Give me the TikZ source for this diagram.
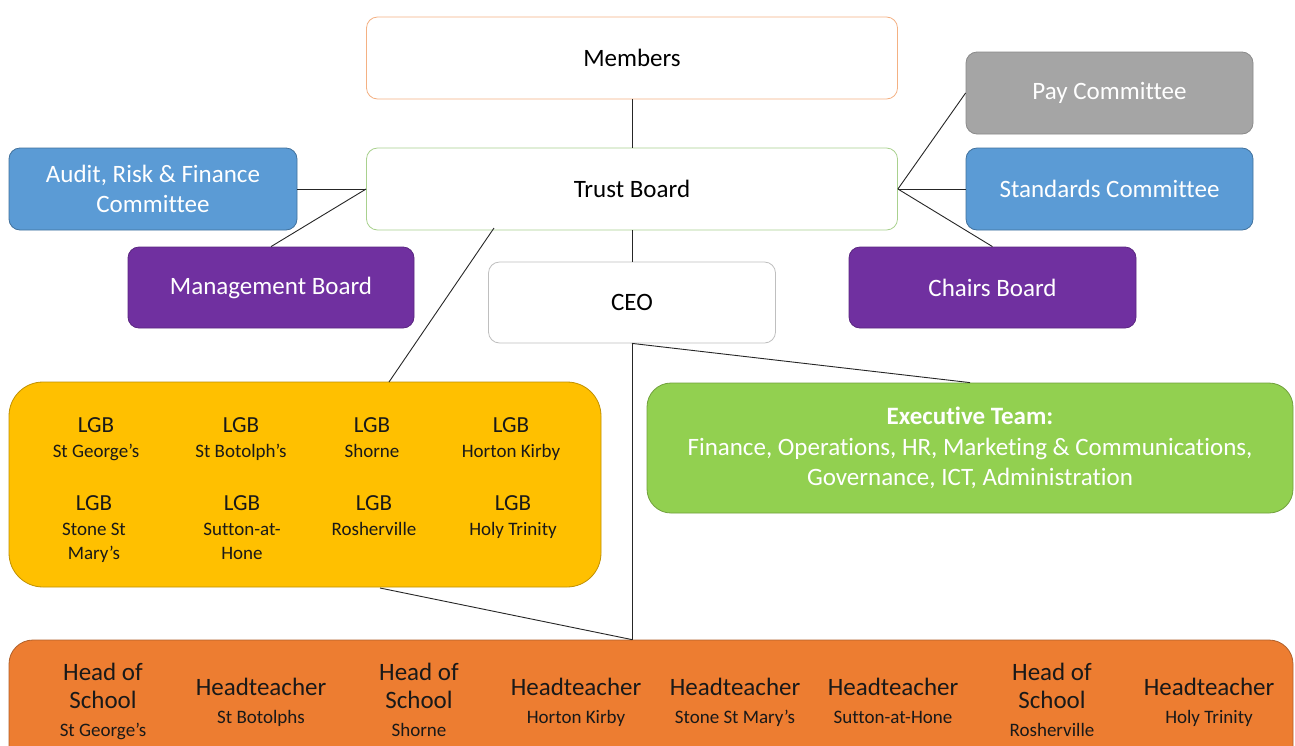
\documentclass[tikz,border=0pt]{standalone}
\usepackage{fontspec}
\setmainfont{Carlito}[Ligatures=NoCommon]
\definecolor{memberline}{HTML}{F4B183}
\definecolor{trustline}{HTML}{A9D18E}
\definecolor{ceoline}{HTML}{BFBFBF}
\definecolor{bluefill}{HTML}{5B9BD5}
\definecolor{blueline}{HTML}{41719C}
\definecolor{purplefill}{HTML}{7030A0}
\definecolor{purpleline}{HTML}{5A2680}
\definecolor{grayfill}{HTML}{A5A5A5}
\definecolor{grayline}{HTML}{8A8A8A}
\definecolor{yellowfill}{HTML}{FFC000}
\definecolor{yellowline}{HTML}{C09000}
\definecolor{greenfill}{HTML}{92D050}
\definecolor{greenline}{HTML}{71A03C}
\definecolor{orangefill}{HTML}{ED7D31}
\definecolor{orangeline}{HTML}{B0602A}
\definecolor{linkcol}{HTML}{262626}
% first lines of the school entries
\newcommand{\lgbhead}{{\fontsize{23}{24.5}\selectfont\strut LGB}}
\newcommand{\bigline}[1]{{\fontsize{25}{28}\selectfont\strut #1}}
\begin{document}
\begin{tikzpicture}[x=1pt,y=-1pt,
  box/.style={rectangle, rounded corners=11pt, line width=0.8pt, align=center,
    inner sep=0pt, font=\fontsize{25}{30}\selectfont},
  whitebox/.style={box, fill=white, text=black},
  colbox/.style={box, text=white},
  wide/.style={minimum width=#1pt},
  tall/.style={minimum height=#1pt},
  lgbitem/.style={align=center, inner sep=0pt, anchor=north, text=black!90,
    font=\fontsize{19}{24.5}\selectfont},
  headitem/.style={align=center, inner sep=0pt, anchor=north, text=black!90,
    font=\fontsize{19}{28}\selectfont},
  link/.style={draw=linkcol, line width=0.9pt}
]
\clip (0,0) rectangle (1295,745);
\fill[white] (0,0) rectangle (1295,745);

% governance boxes
\node[whitebox, draw=memberline, wide=531, tall=82] (members) at (632,58) {Members};
\node[whitebox, draw=trustline, wide=531, tall=82] (trust) at (632,189) {Trust Board};
\node[whitebox, draw=ceoline, wide=287, tall=81] (ceo) at (632,302.5) {CEO};

\node[colbox, fill=bluefill, draw=blueline, wide=288, tall=82] (audit) at (153,189)
  {Audit, Risk \& Finance\\Committee};
\node[colbox, fill=purplefill, draw=purpleline, wide=286, tall=81] (mgmt) at (271,287.5)
  {Management Board};
\node[colbox, fill=grayfill, draw=grayline, wide=287, tall=82] (pay) at (1109.5,93)
  {Pay Committee};
\node[colbox, fill=bluefill, draw=blueline, wide=287, tall=82] (standards) at (1109.5,189)
  {Standards Committee};
\node[colbox, fill=purplefill, draw=purpleline, wide=287, tall=81] (chairs) at (992.5,287.5)
  {Chairs Board};

% local governing bodies
\node[box, rounded corners=34pt, fill=yellowfill, draw=yellowline, wide=592, tall=205] (lgb) at (305,484.5) {};
\node[lgbitem] (lgb1) at (96,415.5) {\lgbhead\\St George’s};
\node[lgbitem] (lgb2) at (241,415.5) {\lgbhead\\St Botolph’s};
\node[lgbitem] (lgb3) at (372,415.5) {\lgbhead\\Shorne};
\node[lgbitem] (lgb4) at (511,415.5) {\lgbhead\\Horton Kirby};
\node[lgbitem] (lgb5) at (94,493.5) {\lgbhead\\Stone St\\Mary’s};
\node[lgbitem] (lgb6) at (242,493.5) {\lgbhead\\Sutton-at-\\Hone};
\node[lgbitem] (lgb7) at (374,493.5) {\lgbhead\\Rosherville};
\node[lgbitem] (lgb8) at (513,493.5) {\lgbhead\\Holy Trinity};

% executive team
\node[colbox, rounded corners=24pt, fill=greenfill, draw=greenline, wide=646, tall=130,
  font=\fontsize{25}{30.5}\selectfont] (exec) at (970,448)
  {\textbf{Executive Team:}\\Finance, Operations, HR, Marketing \& Communications,\\Governance, ICT, Administration};

% school leaders
\node[box, rounded corners=24pt, fill=orangefill, draw=orangeline, wide=1284, tall=130] (heads) at (651,705) {};
\node[headitem] (h1) at (103,660.5) {\bigline{Head of}\\\bigline{School}\\St George’s};
\node[headitem] (h2) at (261,675.5) {\bigline{Headteacher}\\St Botolphs};
\node[headitem] (h3) at (419,660.5) {\bigline{Head of}\\\bigline{School}\\Shorne};
\node[headitem] (h4) at (576,675.5) {\bigline{Headteacher}\\Horton Kirby};
\node[headitem] (h5) at (735,675.5) {\bigline{Headteacher}\\Stone St Mary’s};
\node[headitem] (h6) at (893,675.5) {\bigline{Headteacher}\\Sutton-at-Hone};
\node[headitem] (h7) at (1052,660.5) {\bigline{Head of}\\\bigline{School}\\Rosherville};
\node[headitem] (h8) at (1209,675.5) {\bigline{Headteacher}\\Holy Trinity};

% connector end points
\coordinate (tbfoot) at (494,228);
\coordinate (lgbtop) at (389,382);
\coordinate (lgbfoot) at (380,588);
\coordinate (headstop) at (ceo.south |- heads.north);

% connectors
\draw[link] (members.south) -- (trust.north);
\draw[link] (trust.south) -- (ceo.north);
\draw[link] (audit.east) -- (trust.west);
\draw[link] (mgmt.north) -- (trust.west);
\draw[link] (trust.east) -- (pay.west);
\draw[link] (trust.east) -- (standards.west);
\draw[link] (trust.east) -- (chairs.north);
\draw[link] (lgbtop) -- (tbfoot);
\draw[link] (ceo.south) -- (exec.north);
\draw[link] (ceo.south) -- (headstop);
\draw[link] (lgbfoot) -- (headstop);
\end{tikzpicture}
\end{document}
